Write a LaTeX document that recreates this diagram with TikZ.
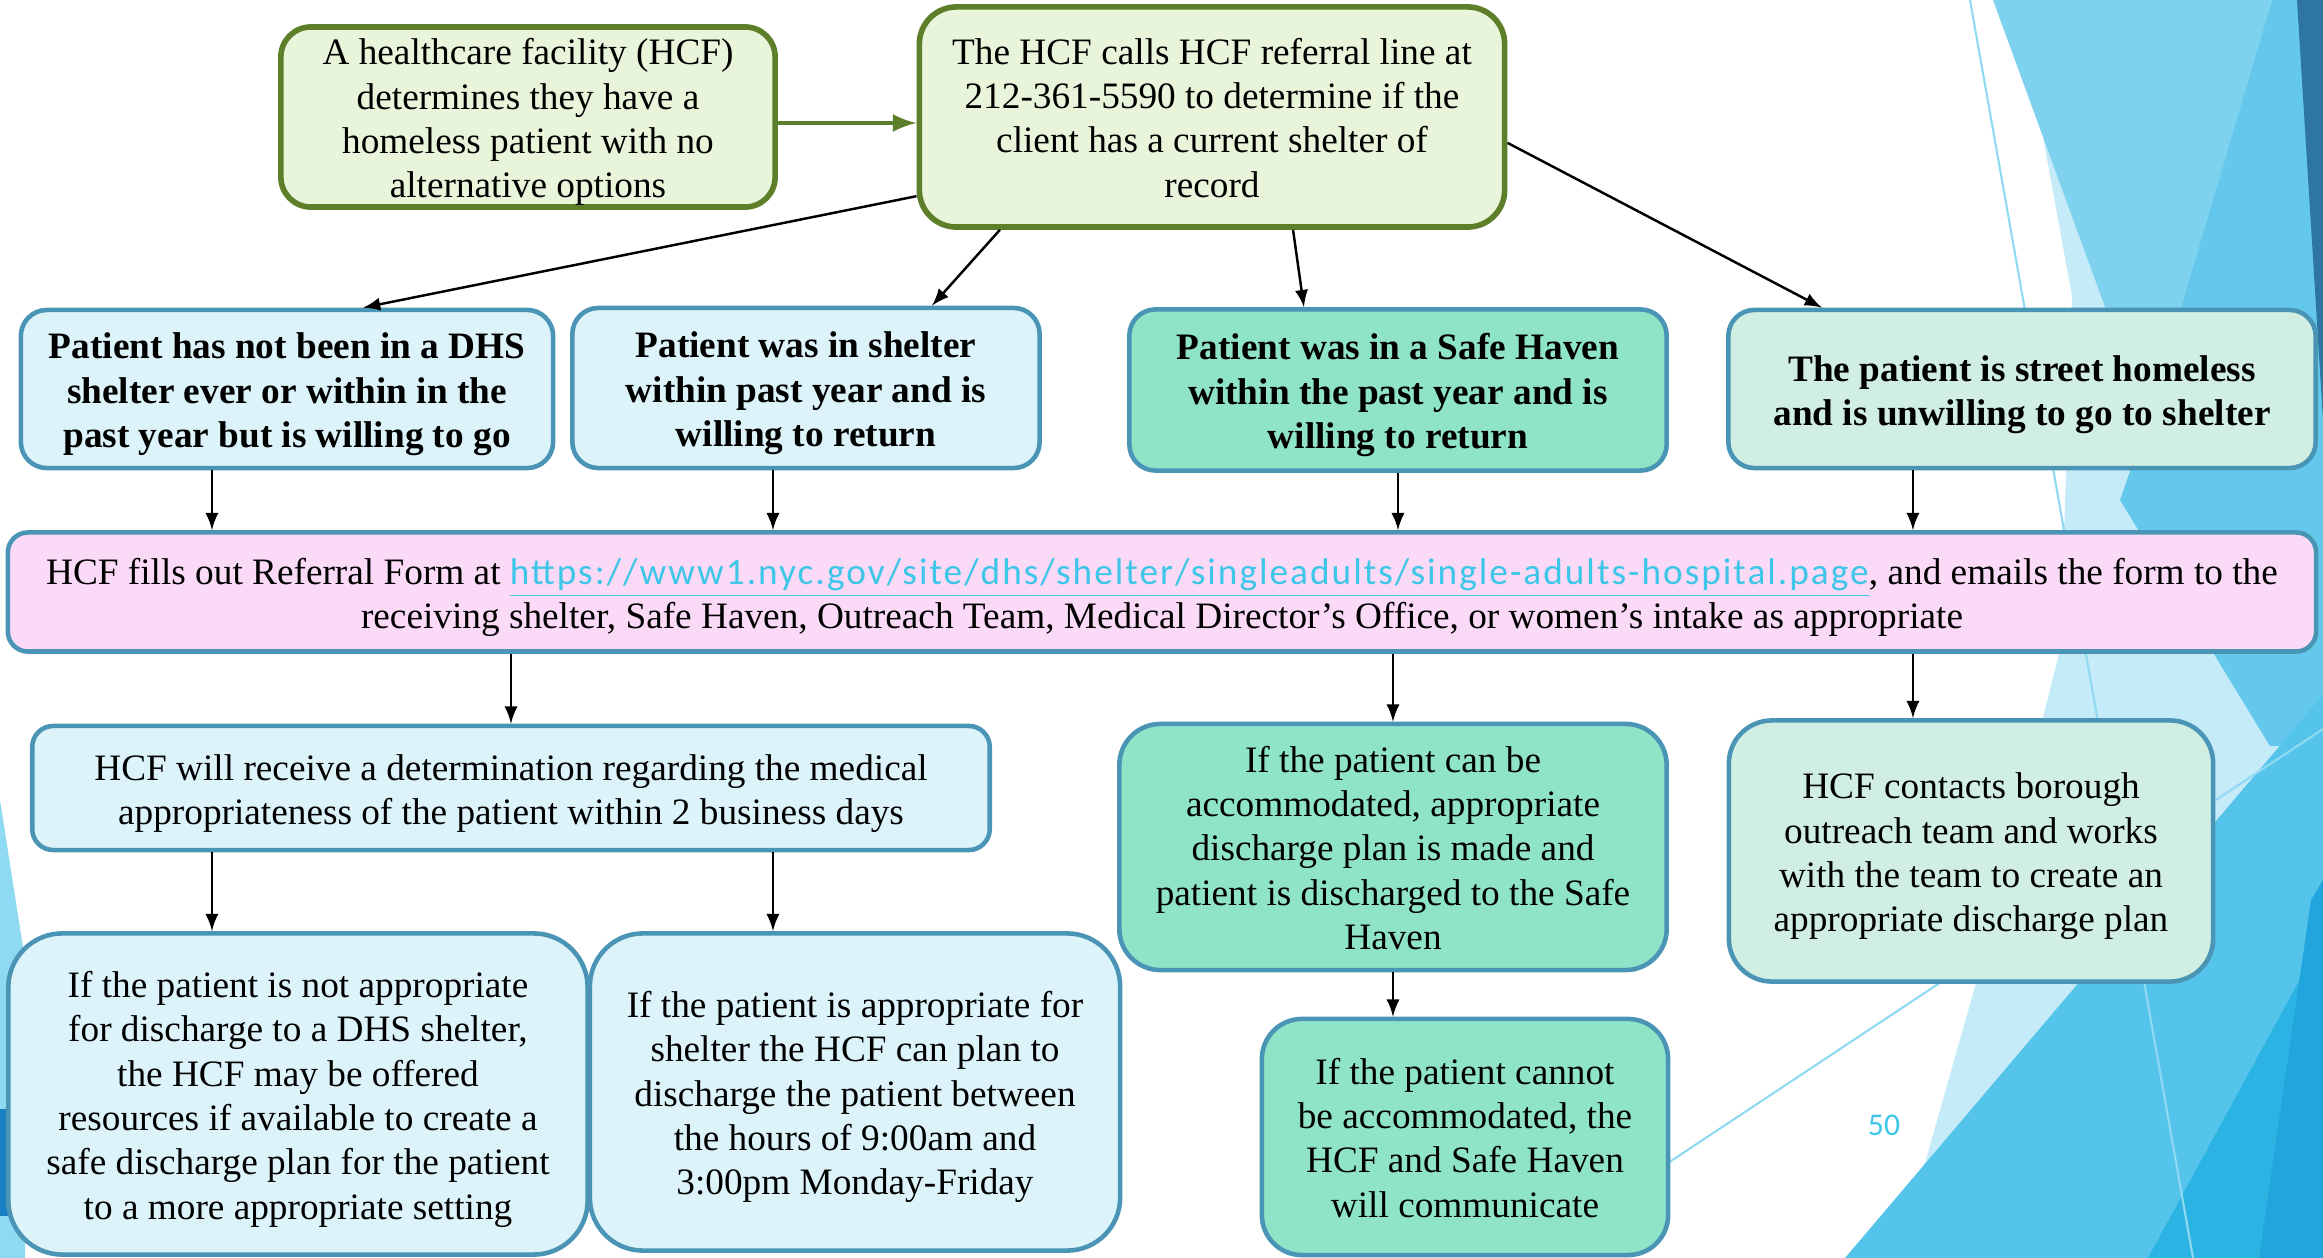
\documentclass[tikz,border=0pt]{standalone}
\usepackage{fontspec}
\setmainfont{Liberation Serif}
\newfontfamily\linkfont[LetterSpace=5.4]{Carlito}
\newfontfamily\numfont{Carlito}
\usetikzlibrary{arrows}
\definecolor{hcfgreen}{HTML}{E9F5DB}
\definecolor{hcfgreenline}{HTML}{5E7F2A}
\definecolor{hcfblue}{HTML}{DDF3FA}
\definecolor{hcfline}{HTML}{4A95B5}
\definecolor{hcfteal}{HTML}{8FE3C7}
\definecolor{hcfmint}{HTML}{D0EFE2}
\definecolor{hcfpink}{HTML}{FADAF6}
\definecolor{hcflink}{HTML}{3EC6E8}
\definecolor{facetA}{HTML}{7FD2EE}
\definecolor{facetB}{HTML}{63C8EC}
\definecolor{facetC}{HTML}{C5EBF8}
\definecolor{facetD}{HTML}{55C4EA}
\definecolor{facetE}{HTML}{2AB3E3}
\definecolor{facetF}{HTML}{22A5DC}
\definecolor{facetG}{HTML}{2E75A3}
\definecolor{facetL}{HTML}{8FDAF2}
\definecolor{facetN}{HTML}{1A7FC3}
\newcommand{\firstline}{\rule{0pt}{10.4pt}}
\newcommand{\lastline}{\rule[-2.6pt]{0pt}{1pt}}

\begin{document}
\begin{tikzpicture}[x=0.01cm,y=-0.01cm,
box/.style={draw=hcfline,line width=1.3pt,align=center,inner sep=0pt,font=\fontsize{10.6}{12.6}\selectfont},
greenbox/.style={box,draw=hcfgreenline,line width=1.6pt,fill=hcfgreen},
bluebox/.style={box,fill=hcfblue},
tealbox/.style={box,fill=hcfteal},
mintbox/.style={box,fill=hcfmint},
pinkbox/.style={box,fill=hcfpink},
arr/.style={-latex,line width=0.7pt}]

\useasboundingbox (0,0) rectangle (2323,1258);

% background facets
\fill[facetC] (2018,0) -- (2323,0) -- (2323,1258) -- (1900,1258) -- (1925,1163) -- (1976,983) -- (2060,650) -- (2072,296) -- cycle;
\fill[facetA] (1993,0) -- (2272,0) -- (2147,422) -- cycle;
\fill[facetB] (2272,0) -- (2323,0) -- (2323,745) -- (2270,746) -- (2120,500) -- (2147,422) -- cycle;
\fill[facetD] (1845,1258) -- (2323,695) -- (2323,1258) -- cycle;
\fill[facetE] (2148,1258) -- (2298,983) -- (2323,900) -- (2323,1258) -- cycle;
\fill[facetF] (2259,1258) -- (2311,900) -- (2323,880) -- (2323,1258) -- cycle;
\fill[facetG] (2297,0) -- (2323,0) -- (2323,420) -- cycle;
\fill[facetL] (0,800) -- (25,960) -- (25,1258) -- (0,1258) -- cycle;
\fill[facetN] (0,1109) rectangle (15,1216);
\draw[facetL,line width=0.6pt] (1970,0) -- (2193,1258);
\draw[facetL,line width=0.6pt] (1600,1208) -- (2323,729);

\node[text=hcflink,font=\numfont\fontsize{9}{9}\selectfont] (pnum) at (1884,1125) {50};

% top row
\node[greenbox,minimum width=4.94cm,minimum height=1.80cm,rounded corners=0.3cm] (a) at (528,117)
{\firstline A healthcare facility (HCF)\\determines they have a\\homeless patient with no\\alternative options};
\node[greenbox,minimum width=5.85cm,minimum height=2.20cm,rounded corners=0.37cm] (b) at (1212,117)
{\firstline The HCF calls HCF referral line at\\212-361-5590 to determine if the\\client has a current shelter of\\record\lastline};

% cases
\node[bluebox,minimum width=5.32cm,minimum height=1.58cm,rounded corners=0.26cm,font=\fontsize{10.6}{12.6}\selectfont\bfseries] (c1) at (287,389)
{\firstline Patient has not been in a DHS\\shelter ever or within in the\\past year but is willing to go};
\node[bluebox,minimum width=4.67cm,minimum height=1.60cm,rounded corners=0.26cm,font=\fontsize{10.6}{12.6}\selectfont\bfseries] (c2) at (806,388)
{\firstline Patient was in shelter\\within past year and is\\willing to return};
\node[tealbox,minimum width=5.37cm,minimum height=1.61cm,rounded corners=0.26cm,font=\fontsize{10.6}{12.6}\selectfont\bfseries] (c3) at (1398,390)
{\firstline Patient was in a Safe Haven\\within the past year and is\\willing to return};
\node[mintbox,minimum width=5.87cm,minimum height=1.58cm,rounded corners=0.26cm,font=\fontsize{10.6}{12.6}\selectfont\bfseries] (c4) at (2022,389)
{\firstline The patient is street homeless\\and is unwilling to go to shelter};

% referral form
\node[pinkbox,minimum width=23.07cm,minimum height=1.19cm,rounded corners=0.2cm] (r) at (1162,592)
{\firstline HCF fills out Referral Form at {\linkfont\color{hcflink}\underline{https://www1.nyc.gov/site/dhs/shelter/singleadults/single-adults-hospital.page}}, and emails the form to the\\receiving shelter, Safe Haven, Outreach Team, Medical Director’s Office, or women’s intake as appropriate};

% outcomes
\node[bluebox,minimum width=9.57cm,minimum height=1.24cm,rounded corners=0.21cm] (d1) at (511,788)
{\firstline HCF will receive a determination regarding the medical\\appropriateness of the patient within 2 business days};
\node[tealbox,minimum width=5.47cm,minimum height=2.46cm,rounded corners=0.41cm] (e1) at (1393,847)
{\firstline If the patient can be\\accommodated, appropriate\\discharge plan is made and\\patient is discharged to the Safe\\Haven\lastline};
\node[mintbox,minimum width=4.84cm,minimum height=2.61cm,rounded corners=0.43cm] (f1) at (1971,851)
{\firstline HCF contacts borough\\outreach team and works\\with the team to create an\\appropriate discharge plan};
\node[bluebox,minimum width=5.79cm,minimum height=3.21cm,rounded corners=0.54cm] (d2) at (298,1094)
{\firstline If the patient is not appropriate\\for discharge to a DHS shelter,\\the HCF may be offered\\resources if available to create a\\safe discharge plan for the patient\\to a more appropriate setting};
\node[bluebox,minimum width=5.30cm,minimum height=3.17cm,rounded corners=0.53cm] (d3) at (855,1092)
{\firstline If the patient is appropriate for\\shelter the HCF can plan to\\discharge the patient between\\the hours of 9:00am and\\3:00pm Monday-Friday};
\node[tealbox,minimum width=4.06cm,minimum height=2.36cm,rounded corners=0.4cm] (e2) at (1465,1137)
{\firstline If the patient cannot\\be accommodated, the\\HCF and Safe Haven\\will communicate\lastline};

% connectors
\draw[-latex,draw=hcfgreenline,fill=hcfgreenline,line width=1.3pt] ([yshift=-0.06cm]a.east) -- ([yshift=-0.06cm]a.east -| b.west);
\draw[arr] (b.195) -- ([xshift=0.76cm]c1.north);
\draw[arr] ([xshift=-2.12cm]b.south) -- ([xshift=1.26cm]c2.north);
\draw[arr] ([xshift=0.81cm]b.south) -- ([xshift=-0.94cm]c3.north);
\draw[arr] (b.-5) -- ([xshift=-2.0cm]c4.north);

\draw[arr] ([xshift=-0.75cm]c1.south) -- ([xshift=-0.75cm]c1.south |- r.north);
\draw[arr] ([xshift=-0.33cm]c2.south) -- ([xshift=-0.33cm]c2.south |- r.north);
\draw[arr] (c3.south) -- (c3.south |- r.north);
\draw[arr] ([xshift=-1.09cm]c4.south) -- ([xshift=-1.09cm]c4.south |- r.north);

\draw[arr] (r.south -| d1.north) -- (d1.north);
\draw[arr] (r.south -| e1.north) -- (e1.north);
\draw[arr] ([xshift=-0.58cm]f1.north |- r.south) -- ([xshift=-0.58cm]f1.north);

\draw[arr] ([xshift=-0.86cm]d2.north |- d1.south) -- ([xshift=-0.86cm]d2.north);
\draw[arr] ([xshift=-0.82cm]d3.north |- d1.south) -- ([xshift=-0.82cm]d3.north);
\draw[arr] (e1.south) -- (e1.south |- e2.north);
\end{tikzpicture}
\end{document}
